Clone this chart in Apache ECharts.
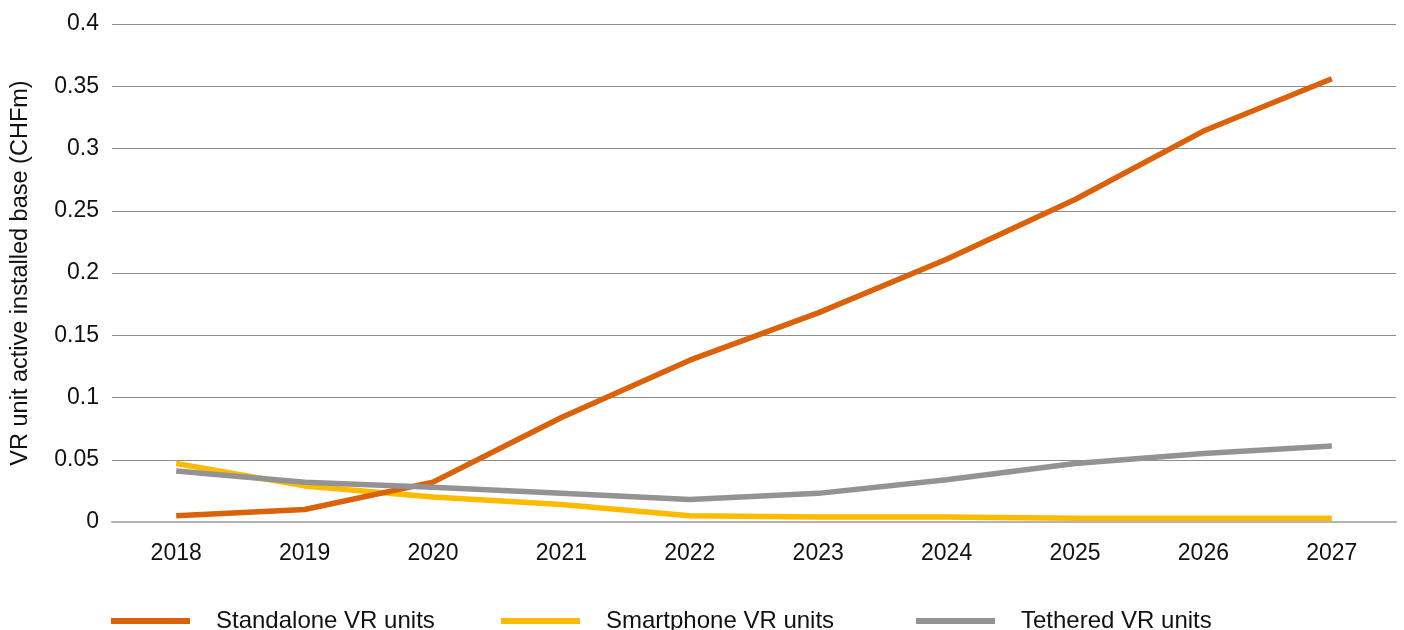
<!DOCTYPE html>
<html>
<head>
<meta charset="utf-8">
<script src="https://cdn.jsdelivr.net/npm/echarts@6/dist/echarts.min.js"></script>
<style>
  html, body { margin: 0; padding: 0; background: #fff; }
  #chart { width: 1404px; height: 630px; }
</style>
</head>
<body>
<div id="chart"></div>
<script>
// Years on the horizontal axis
const years = ['2018', '2019', '2020', '2021', '2022', '2023', '2024', '2025', '2026', '2027'];

// VR unit active installed base (CHFm) per device type
const standalone = [0.005, 0.010, 0.032, 0.084, 0.130, 0.168, 0.211, 0.259, 0.314, 0.356];
const smartphone = [0.047, 0.029, 0.020, 0.014, 0.005, 0.004, 0.004, 0.003, 0.003, 0.003];
const tethered   = [0.041, 0.032, 0.028, 0.023, 0.018, 0.023, 0.034, 0.047, 0.055, 0.061];

const seriesNames = ['Standalone VR units', 'Smartphone VR units', 'Tethered VR units'];
const colors = ['#D9620A', '#FDBB00', '#939393'];

const font = '"Liberation Sans", Arial, Helvetica, sans-serif';

const chart = echarts.init(document.getElementById('chart'), null, { renderer: 'canvas' });

// One legend block per series so each entry sits at its own fixed spot
function legendAt(name, left) {
  return {
    data: [name],
    left: left,
    top: 609,
    padding: 0,
    icon: 'rect',
    itemWidth: 79,
    itemHeight: 6,
    textStyle: { fontFamily: font, fontSize: 24, color: '#111', padding: [0, 0, 0, 21] },
    selectedMode: false
  };
}

chart.setOption({
  animation: false,
  color: colors,
  legend: [
    legendAt(seriesNames[0], 111),
    legendAt(seriesNames[1], 501),
    legendAt(seriesNames[2], 916)
  ],
  grid: { left: 112, right: 8, top: 24, bottom: 108, containLabel: false, outerBoundsMode: 'none' },
  xAxis: {
    type: 'category',
    data: years,
    boundaryGap: true,
    axisLine: { show: true, lineStyle: { color: '#b3b3b3', width: 2 } },
    axisTick: { show: false },
    axisLabel: { fontFamily: font, fontSize: 23, color: '#111', margin: 20 }
  },
  yAxis: {
    type: 'value',
    min: 0,
    max: 0.4,
    interval: 0.05,
    name: 'VR unit active installed base (CHFm)',
    nameLocation: 'middle',
    nameGap: 79,
    nameTextStyle: { fontFamily: font, fontSize: 23.5, color: '#111' },
    axisLine: { show: false },
    axisTick: { show: false },
    axisLabel: {
      fontFamily: font, fontSize: 23, color: '#111', margin: 13,
      formatter: v => String(+v.toFixed(2))
    },
    splitLine: { lineStyle: { color: '#8c8c8c', width: 1 } }
  },
  series: [
    { name: seriesNames[0], type: 'line', data: standalone, showSymbol: false, lineStyle: { width: 5.5, color: colors[0] }, z: 3 },
    { name: seriesNames[1], type: 'line', data: smartphone, showSymbol: false, lineStyle: { width: 5.5, color: colors[1] }, z: 2 },
    { name: seriesNames[2], type: 'line', data: tethered, showSymbol: false, lineStyle: { width: 5.5, color: colors[2] }, z: 4 }
  ]
});
</script>
</body>
</html>
